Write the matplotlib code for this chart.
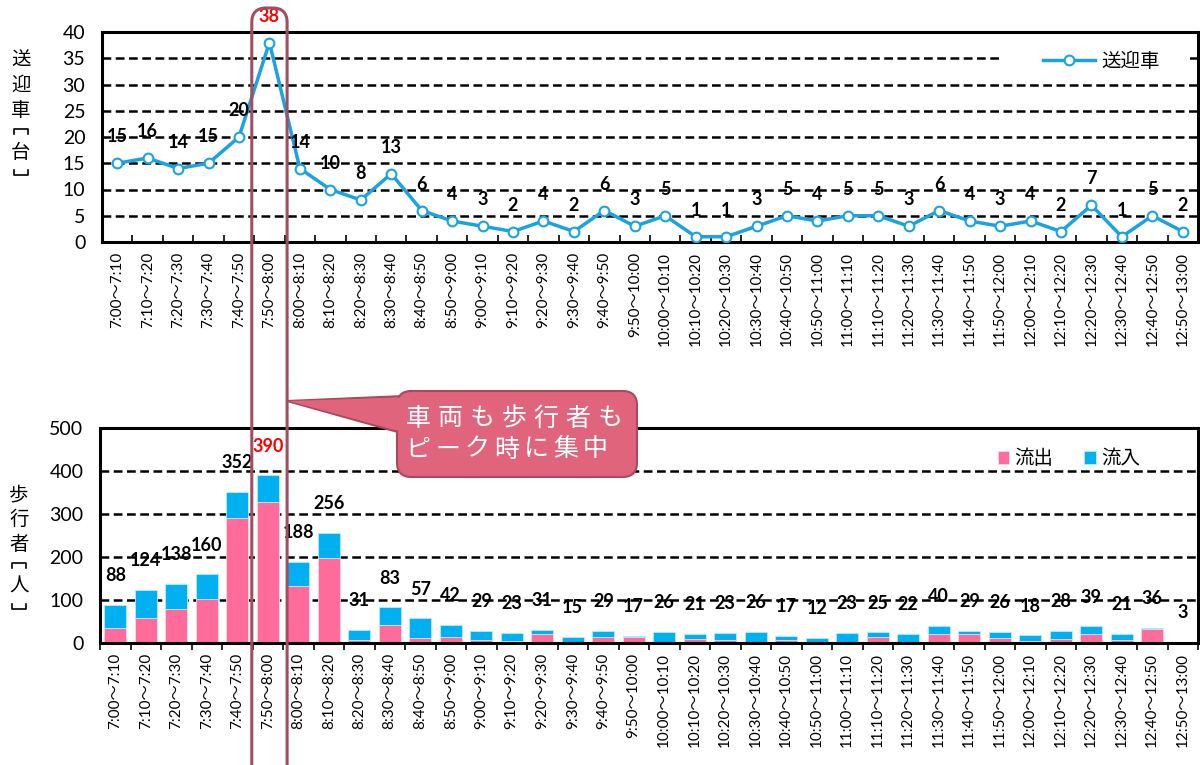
import numpy as np
import matplotlib
matplotlib.use("Agg")
import matplotlib.pyplot as plt
from matplotlib.patches import FancyBboxPatch, Polygon, Rectangle
from matplotlib.lines import Line2D
from matplotlib.ticker import MultipleLocator

plt.rcParams['font.family'] = ['Lato', 'Noto Sans CJK JP', 'DejaVu Sans']

# 時間帯
jikan = ["7:00～7:10", "7:10～7:20", "7:20～7:30", "7:30～7:40", "7:40～7:50", "7:50～8:00",
         "8:00～8:10", "8:10～8:20", "8:20～8:30", "8:30～8:40", "8:40～8:50", "8:50～9:00",
         "9:00～9:10", "9:10～9:20", "9:20～9:30", "9:30～9:40", "9:40～9:50", "9:50～10:00",
         "10:00～10:10", "10:10～10:20", "10:20～10:30", "10:30～10:40", "10:40～10:50", "10:50～11:00",
         "11:00～11:10", "11:10～11:20", "11:20～11:30", "11:30～11:40", "11:40～11:50", "11:50～12:00",
         "12:00～12:10", "12:10～12:20", "12:20～12:30", "12:30～12:40", "12:40～12:50", "12:50～13:00"]

# 送迎車 [台]
sougei = [15, 16, 14, 15, 20, 38, 14, 10, 8, 13, 6, 4, 3, 2, 4, 2, 6, 3,
          5, 1, 1, 3, 5, 4, 5, 5, 3, 6, 4, 3, 4, 2, 7, 1, 5, 2]

# 歩行者 [人]
hokou_total = [88, 124, 138, 160, 352, 390, 188, 256, 31, 83, 57, 42, 29, 23, 31, 15, 29, 17,
               26, 21, 23, 26, 17, 12, 23, 25, 22, 40, 29, 26, 18, 28, 39, 21, 36, 3]
ryushutsu = [35, 59, 78, 103, 290, 327, 133, 198, 6, 43, 11, 14, 8, 5, 22, 2, 13, 13,
             2, 10, 7, 2, 8, 3, 0, 15, 2, 22, 20, 12, 5, 10, 20, 6, 32, 3]
ryunyu = [t - o for t, o in zip(hokou_total, ryushutsu)]

peak = 5
azul = "#1AA3E0"
rosa = "#FF6C9C"
cian = "#00B0F0"
marco = "#A34E60"
globo = "#E0657C"
globo_borde = "#A84A5C"

fig = plt.figure(figsize=(12, 7.65), dpi=100)
W, H = 1200, 765

def px(x0, y0, x1, y1):
    return [x0 / W, 1 - y1 / H, (x1 - x0) / W, (y1 - y0) / H]

x = np.arange(len(jikan))
grid_kw = dict(color="black", lw=1.8, linestyle=(0, (3.5, 1.8)), zorder=0)


def estilo(ax, top, paso, direccion):
    ax.set_xlim(-0.5, len(jikan) - 0.5)
    ax.set_ylim(0, top)
    ax.yaxis.set_major_locator(MultipleLocator(paso))
    for v in np.arange(paso, top, paso):
        ax.axhline(v, **grid_kw)
    for s in ax.spines.values():
        s.set_linewidth(2.2)
    ax.set_xticks(x)
    ax.set_xticklabels(jikan, rotation=90, fontsize=11)
    ax.set_xticks(np.arange(-0.5, len(jikan)), minor=True)
    ax.tick_params(axis="x", which="major", length=0, pad=7)
    ax.tick_params(axis="x", which="minor", length=5, width=1.2, direction=direccion)
    ax.tick_params(axis="y", length=0, labelsize=14, pad=12)


def etiquetas(ax, valores, dy):
    for i, v in enumerate(valores):
        ax.annotate(str(v), (i, v), xytext=(0, dy), textcoords="offset points",
                    ha="center", va="center", fontsize=13, fontweight="bold",
                    color="red" if i == peak else "black", annotation_clip=False, zorder=4)


# ---- 送迎車 ----
ax1 = fig.add_axes(px(102, 32, 1198, 242))
estilo(ax1, 40, 5, "in")
ax1.plot(x, sougei, color=azul, lw=2.5, marker="o", ms=7, mfc="white", mec=azul,
         mew=1.5, zorder=3, label="送迎車")
etiquetas(ax1, sougei, 19)
ax1.add_patch(Rectangle((0.822, 0.815), 0.171, 0.095, transform=ax1.transAxes,
                        fc="white", ec="none", zorder=1))
ax1.legend(loc="center right", bbox_to_anchor=(0.965, 0.862), fontsize=14,
           handlelength=2.7, frameon=False, borderpad=0, borderaxespad=0,
           handletextpad=0.3)

# ---- 歩行者 ----
ax2 = fig.add_axes(px(100, 428, 1198, 643))
estilo(ax2, 500, 100, "out")
ax2.bar(x, ryushutsu, width=0.72, color=rosa, edgecolor="#ffd6e4", lw=0.6, zorder=2, label="流出")
ax2.bar(x, ryunyu, width=0.72, bottom=ryushutsu, color=cian, edgecolor="#b8ecff", lw=0.6,
        zorder=2, label="流入")
etiquetas(ax2, hokou_total, 21)
ax2.legend(loc="center right", bbox_to_anchor=(0.947, 0.86), ncol=2, fontsize=14,
           handlelength=0.6, handleheight=0.6, frameon=False, columnspacing=1.6,
           handletextpad=0.25, borderpad=0, borderaxespad=0)


# 縦書きラベル
def corchete(xc, y, abajo):
    s = 5 if abajo else -5
    xs = [(xc - 7) / W, (xc - 7) / W, (xc + 7) / W, (xc + 7) / W]
    ys = [1 - (y + s) / H, 1 - y / H, 1 - y / H, 1 - (y + s) / H]
    fig.add_artist(Line2D(xs, ys, transform=fig.transFigure, color="black", lw=1.2))


def tategaki(xc, y0, kanji, unidad):
    for k, ch in enumerate(kanji):
        fig.text(xc / W, 1 - (y0 + k * 25) / H, ch, fontsize=14, ha="center", va="center")
    yb = y0 + 3 * 25
    corchete(xc, yb - 6, True)
    fig.text(xc / W, 1 - (yb + 17) / H, unidad, fontsize=14, ha="center", va="center")
    corchete(xc, yb + 40, False)


tategaki(21, 60, "送迎車", "台")
tategaki(19, 494, "歩行者", "人")

# ピーク時の枠
xa = ax1.transData.transform((peak - 0.58, 0))[0] / W
xb = ax1.transData.transform((peak + 0.58, 0))[0] / W
fig.patches.append(FancyBboxPatch((xa, -0.05), xb - xa, 1 - 8 / H + 0.05,
                                  boxstyle="round,pad=0,rounding_size=0.012",
                                  transform=fig.transFigure, fill=False, ec=marco, lw=2.2,
                                  zorder=10, mutation_aspect=W / H))

# 吹き出し
tip = (xb * W, 401)
fig.patches.append(Polygon([(tip[0] / W, 1 - tip[1] / H), (405 / W, 1 - 396 / H),
                            (405 / W, 1 - 434 / H)], closed=True, transform=fig.transFigure,
                           fc=globo, ec=globo_borde, lw=1.5, zorder=11))
fig.patches.append(FancyBboxPatch((397 / W, 1 - 477 / H), 240 / W, 86 / H,
                                  boxstyle="round,pad=0,rounding_size=0.012",
                                  transform=fig.transFigure, fc=globo, ec=globo_borde,
                                  lw=1.5, zorder=12, mutation_aspect=W / H))
fig.patches.append(Polygon([(tip[0] / W + 0.0012, 1 - tip[1] / H), (406 / W, 1 - 397.5 / H),
                            (406 / W, 1 - 432.5 / H)], closed=True, transform=fig.transFigure,
                           fc=globo, ec="none", zorder=13))
for k, ch in enumerate("車両も歩行者も"):
    fig.text((418 + k * 32) / W, 1 - 418 / H, ch, fontsize=18, color="white",
             ha="center", va="center", zorder=14)
for k, ch in enumerate("ピーク時に集中"):
    fig.text((418 + k * 29.5) / W, 1 - 449 / H, ch, fontsize=18, color="white",
             ha="center", va="center", zorder=14)

fig.savefig("out.png", dpi=100)
